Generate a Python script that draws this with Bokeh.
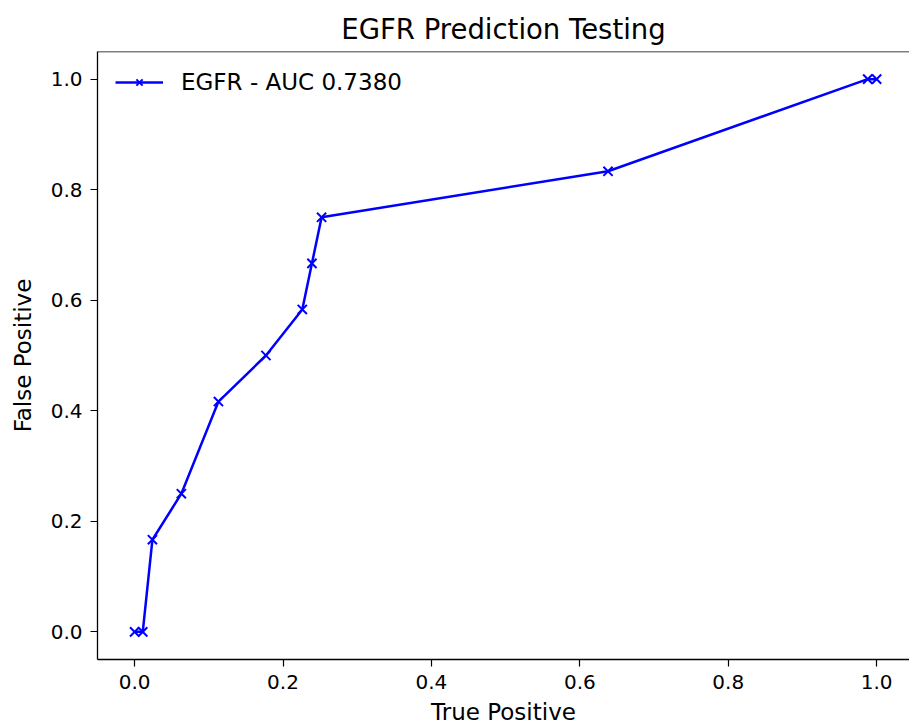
from bokeh.plotting import figure
from bokeh.models import FixedTicker, PrintfTickFormatter, Legend, LegendItem, Range1d, Span
from bokeh.embed import file_html
from bokeh.resources import INLINE

# Data (ROC-style curve)
true_positive = [0.0, 0.011, 0.024, 0.063, 0.113, 0.177, 0.226, 0.239, 0.252, 0.638, 0.988, 1.0]
false_positive = [0.0, 0.0, 0.1667, 0.25, 0.4167, 0.5, 0.5833, 0.6667, 0.75, 0.8333, 1.0, 1.0]
series_label = "EGFR - AUC 0.7380"
x_ticks = [0.0, 0.2, 0.4, 0.6, 0.8, 1.0]
y_ticks = [0.0, 0.2, 0.4, 0.6, 0.8, 1.0]
x_label = "True Positive"
y_label = "False Positive"

FONT = "DejaVu Sans"

p = figure(width=909, height=727, output_backend="svg", toolbar_location=None,
           x_range=Range1d(-0.05, 1.0443), y_range=Range1d(-0.05, 1.05),
           min_border_left=97, min_border_right=0, min_border_top=51, min_border_bottom=68)

p.title.text = "EGFR Prediction Testing"
p.title.align = "center"
p.title.text_font = FONT
p.title.text_font_size = "27.5px"
p.title.text_font_style = "normal"
p.title.text_color = "#000000"
p.title.standoff = 14

p.grid.visible = False
p.outline_line_color = None
p.background_fill_color = "white"
p.border_fill_color = "white"

for ax, ticks in ((p.xaxis[0], x_ticks), (p.yaxis[0], y_ticks)):
    ax.ticker = FixedTicker(ticks=ticks)
    ax.formatter = PrintfTickFormatter(format="%.1f")
    ax.axis_line_color = "#000000"
    ax.axis_line_width = 1.3
    ax.major_tick_in = 0
    ax.major_tick_out = 7
    ax.major_tick_line_color = "#000000"
    ax.major_tick_line_width = 1.2
    ax.minor_tick_line_color = None
    ax.major_label_text_font = FONT
    ax.major_label_text_font_size = "20px"
    ax.major_label_text_color = "#000000"
    ax.axis_label_text_font = FONT
    ax.axis_label_text_font_size = "23px"
    ax.axis_label_text_font_style = "normal"
    ax.axis_label_text_color = "#000000"

p.xaxis.axis_label = x_label
p.xaxis.major_label_standoff = 8
p.xaxis.axis_label_standoff = 7
p.yaxis.axis_label = y_label
p.yaxis.major_label_standoff = 8
p.yaxis.axis_label_standoff = 12

# top spine (the right spine falls outside the picture in the reference)
p.add_layout(Span(location=1.05, dimension="width", line_color="#000000", line_width=1.3))

ln = p.line(true_positive, false_positive, line_color="#0000ff", line_width=2.5)
sc = p.scatter(true_positive, false_positive, marker="x", size=13,
               line_color="#0000ff", line_width=2)

legend = Legend(items=[LegendItem(label=series_label, renderers=[ln, sc])],
                location="top_left")
legend.border_line_color = None
legend.background_fill_alpha = 0
legend.margin = 18
legend.padding = 9
legend.glyph_width = 48
legend.glyph_height = 22
legend.label_standoff = 18
legend.label_text_font = FONT
legend.label_text_font_size = "23px"
legend.label_text_color = "#000000"
p.add_layout(legend, "center")

open("out.html", "w").write(file_html(p, INLINE))
